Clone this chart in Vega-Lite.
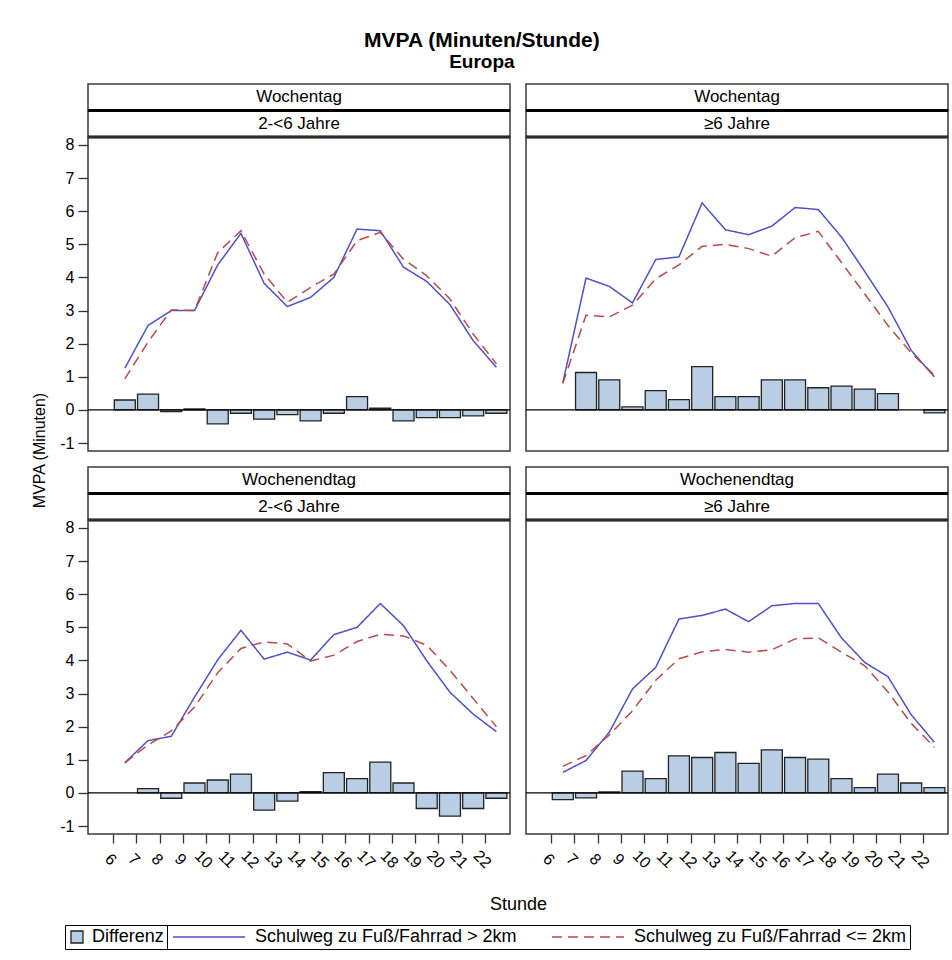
{
  "$schema": "https://vega.github.io/schema/vega-lite/v6.json",
  "padding": {"left": 30, "top": 30, "right": 5, "bottom": 5},
  "background": "white",
  "title": {"text": "MVPA (Minuten/Stunde)", "subtitle": "Europa", "anchor": "middle", "font": "Liberation Sans", "subtitleFont": "Liberation Sans", "fontSize": 21, "fontWeight": "bold", "subtitleFontSize": 19, "subtitleFontWeight": "bold", "color": "black", "subtitleColor": "black", "offset": 11, "subtitlePadding": 2, "dx": -8},
  "datasets": {
    "serien": [
      {"code": "gt2km", "name": "Schulweg zu Fuß/Fahrrad > 2km"},
      {"code": "le2km", "name": "Schulweg zu Fuß/Fahrrad <= 2km"}
    ],
    "nulllinie": [{"wert": 0}],
    "kopf": [
      {"panel": "A", "ebene": "1", "label": "Wochentag"},
      {"panel": "A", "ebene": "2", "label": "2-<6 Jahre"},
      {"panel": "B", "ebene": "1", "label": "Wochentag"},
      {"panel": "B", "ebene": "2", "label": "≥6 Jahre"},
      {"panel": "C", "ebene": "1", "label": "Wochenendtag"},
      {"panel": "C", "ebene": "2", "label": "2-<6 Jahre"},
      {"panel": "D", "ebene": "1", "label": "Wochenendtag"},
      {"panel": "D", "ebene": "2", "label": "≥6 Jahre"}
    ],
    "werte": [
      {"panel": "A", "stunde": 6.5, "gt2km": 1.26, "le2km": 0.94, "diff": 0.30},
      {"panel": "A", "stunde": 7.5, "gt2km": 2.55, "le2km": 2.05, "diff": 0.48},
      {"panel": "A", "stunde": 8.5, "gt2km": 3.0, "le2km": 3.02, "diff": -0.05},
      {"panel": "A", "stunde": 9.5, "gt2km": 3.0, "le2km": 3.0, "diff": 0.03},
      {"panel": "A", "stunde": 10.5, "gt2km": 4.38, "le2km": 4.75, "diff": -0.42},
      {"panel": "A", "stunde": 11.5, "gt2km": 5.33, "le2km": 5.41, "diff": -0.10},
      {"panel": "A", "stunde": 12.5, "gt2km": 3.82, "le2km": 4.1, "diff": -0.28},
      {"panel": "A", "stunde": 13.5, "gt2km": 3.12, "le2km": 3.25, "diff": -0.14},
      {"panel": "A", "stunde": 14.5, "gt2km": 3.40, "le2km": 3.70, "diff": -0.33},
      {"panel": "A", "stunde": 15.5, "gt2km": 4.0, "le2km": 4.10, "diff": -0.10},
      {"panel": "A", "stunde": 16.5, "gt2km": 5.46, "le2km": 5.11, "diff": 0.40},
      {"panel": "A", "stunde": 17.5, "gt2km": 5.41, "le2km": 5.36, "diff": 0.05},
      {"panel": "A", "stunde": 18.5, "gt2km": 4.31, "le2km": 4.55, "diff": -0.33},
      {"panel": "A", "stunde": 19.5, "gt2km": 3.88, "le2km": 4.05, "diff": -0.23},
      {"panel": "A", "stunde": 20.5, "gt2km": 3.18, "le2km": 3.35, "diff": -0.23},
      {"panel": "A", "stunde": 21.5, "gt2km": 2.09, "le2km": 2.29, "diff": -0.18},
      {"panel": "A", "stunde": 22.5, "gt2km": 1.29, "le2km": 1.39, "diff": -0.10},
      {"panel": "B", "stunde": 6.5, "gt2km": 0.82, "le2km": 0.80, "diff": null},
      {"panel": "B", "stunde": 7.5, "gt2km": 3.98, "le2km": 2.86, "diff": 1.13},
      {"panel": "B", "stunde": 8.5, "gt2km": 3.73, "le2km": 2.81, "diff": 0.91},
      {"panel": "B", "stunde": 9.5, "gt2km": 3.23, "le2km": 3.16, "diff": 0.09},
      {"panel": "B", "stunde": 10.5, "gt2km": 4.54, "le2km": 3.96, "diff": 0.58},
      {"panel": "B", "stunde": 11.5, "gt2km": 4.62, "le2km": 4.38, "diff": 0.31},
      {"panel": "B", "stunde": 12.5, "gt2km": 6.25, "le2km": 4.94, "diff": 1.31},
      {"panel": "B", "stunde": 13.5, "gt2km": 5.44, "le2km": 5.0, "diff": 0.40},
      {"panel": "B", "stunde": 14.5, "gt2km": 5.29, "le2km": 4.87, "diff": 0.40},
      {"panel": "B", "stunde": 15.5, "gt2km": 5.55, "le2km": 4.64, "diff": 0.91},
      {"panel": "B", "stunde": 16.5, "gt2km": 6.11, "le2km": 5.2, "diff": 0.91},
      {"panel": "B", "stunde": 17.5, "gt2km": 6.05, "le2km": 5.39, "diff": 0.67},
      {"panel": "B", "stunde": 18.5, "gt2km": 5.22, "le2km": 4.45, "diff": 0.72},
      {"panel": "B", "stunde": 19.5, "gt2km": 4.18, "le2km": 3.5, "diff": 0.63},
      {"panel": "B", "stunde": 20.5, "gt2km": 3.11, "le2km": 2.55, "diff": 0.49},
      {"panel": "B", "stunde": 21.5, "gt2km": 1.80, "le2km": 1.72, "diff": null},
      {"panel": "B", "stunde": 22.5, "gt2km": 1.0, "le2km": 1.05, "diff": -0.09},
      {"panel": "C", "stunde": 6.5, "gt2km": 0.91, "le2km": 0.91, "diff": null},
      {"panel": "C", "stunde": 7.5, "gt2km": 1.58, "le2km": 1.45, "diff": 0.13},
      {"panel": "C", "stunde": 8.5, "gt2km": 1.71, "le2km": 1.87, "diff": -0.16},
      {"panel": "C", "stunde": 9.5, "gt2km": 2.89, "le2km": 2.59, "diff": 0.30},
      {"panel": "C", "stunde": 10.5, "gt2km": 4.02, "le2km": 3.63, "diff": 0.39},
      {"panel": "C", "stunde": 11.5, "gt2km": 4.91, "le2km": 4.36, "diff": 0.57},
      {"panel": "C", "stunde": 12.5, "gt2km": 4.04, "le2km": 4.56, "diff": -0.52},
      {"panel": "C", "stunde": 13.5, "gt2km": 4.25, "le2km": 4.5, "diff": -0.25},
      {"panel": "C", "stunde": 14.5, "gt2km": 4.01, "le2km": 3.98, "diff": 0.04},
      {"panel": "C", "stunde": 15.5, "gt2km": 4.78, "le2km": 4.16, "diff": 0.61},
      {"panel": "C", "stunde": 16.5, "gt2km": 5.0, "le2km": 4.57, "diff": 0.43},
      {"panel": "C", "stunde": 17.5, "gt2km": 5.72, "le2km": 4.79, "diff": 0.93},
      {"panel": "C", "stunde": 18.5, "gt2km": 5.05, "le2km": 4.74, "diff": 0.30},
      {"panel": "C", "stunde": 19.5, "gt2km": 3.99, "le2km": 4.46, "diff": -0.47},
      {"panel": "C", "stunde": 20.5, "gt2km": 3.04, "le2km": 3.7, "diff": -0.70},
      {"panel": "C", "stunde": 21.5, "gt2km": 2.38, "le2km": 2.85, "diff": -0.47},
      {"panel": "C", "stunde": 22.5, "gt2km": 1.85, "le2km": 2.0, "diff": -0.16},
      {"panel": "D", "stunde": 6.5, "gt2km": 0.62, "le2km": 0.80, "diff": -0.20},
      {"panel": "D", "stunde": 7.5, "gt2km": 0.98, "le2km": 1.13, "diff": -0.15},
      {"panel": "D", "stunde": 8.5, "gt2km": 1.83, "le2km": 1.75, "diff": 0.03},
      {"panel": "D", "stunde": 9.5, "gt2km": 3.14, "le2km": 2.48, "diff": 0.66},
      {"panel": "D", "stunde": 10.5, "gt2km": 3.79, "le2km": 3.40, "diff": 0.43},
      {"panel": "D", "stunde": 11.5, "gt2km": 5.25, "le2km": 4.05, "diff": 1.12},
      {"panel": "D", "stunde": 12.5, "gt2km": 5.36, "le2km": 4.26, "diff": 1.07},
      {"panel": "D", "stunde": 13.5, "gt2km": 5.55, "le2km": 4.33, "diff": 1.22},
      {"panel": "D", "stunde": 14.5, "gt2km": 5.17, "le2km": 4.25, "diff": 0.89},
      {"panel": "D", "stunde": 15.5, "gt2km": 5.65, "le2km": 4.32, "diff": 1.30},
      {"panel": "D", "stunde": 16.5, "gt2km": 5.72, "le2km": 4.65, "diff": 1.07},
      {"panel": "D", "stunde": 17.5, "gt2km": 5.72, "le2km": 4.68, "diff": 1.02},
      {"panel": "D", "stunde": 18.5, "gt2km": 4.68, "le2km": 4.25, "diff": 0.43},
      {"panel": "D", "stunde": 19.5, "gt2km": 3.94, "le2km": 3.84, "diff": 0.16},
      {"panel": "D", "stunde": 20.5, "gt2km": 3.51, "le2km": 3.05, "diff": 0.57},
      {"panel": "D", "stunde": 21.5, "gt2km": 2.36, "le2km": 2.1, "diff": 0.30},
      {"panel": "D", "stunde": 22.5, "gt2km": 1.53, "le2km": 1.38, "diff": 0.16}
    ]
  },
  "columns": 2,
  "spacing": {"row": 0, "column": 16},
  "bounds": "flush",
  "concat": [
    {"width": 422, "height": 53, "view": {"stroke": null}, "data": {"name": "kopf"}, "transform": [{"filter": {"field": "panel", "equal": "A"}}],
     "layer": [
       {"mark": {"type": "rect", "fill": "white", "stroke": "#3a3a3a", "strokeWidth": 1.5}, "encoding": {"y": {"field": "ebene", "type": "nominal", "axis": null, "scale": {"type": "band", "paddingInner": 0, "paddingOuter": 0}}}},
       {"mark": {"type": "rule", "color": "black", "strokeWidth": 3}, "encoding": {"y": {"field": "ebene", "type": "nominal", "bandPosition": 1}}},
       {"mark": {"type": "text", "fontSize": 17, "baseline": "middle", "color": "black"}, "encoding": {"y": {"field": "ebene", "type": "nominal", "bandPosition": 0.5}, "text": {"field": "label", "type": "nominal"}}}
     ]},
    {"width": 422, "height": 53, "view": {"stroke": null}, "data": {"name": "kopf"}, "transform": [{"filter": {"field": "panel", "equal": "B"}}],
     "layer": [
       {"mark": {"type": "rect", "fill": "white", "stroke": "#3a3a3a", "strokeWidth": 1.5}, "encoding": {"y": {"field": "ebene", "type": "nominal", "axis": null, "scale": {"type": "band", "paddingInner": 0, "paddingOuter": 0}}}},
       {"mark": {"type": "rule", "color": "black", "strokeWidth": 3}, "encoding": {"y": {"field": "ebene", "type": "nominal", "bandPosition": 1}}},
       {"mark": {"type": "text", "fontSize": 17, "baseline": "middle", "color": "black"}, "encoding": {"y": {"field": "ebene", "type": "nominal", "bandPosition": 0.5}, "text": {"field": "label", "type": "nominal"}}}
     ]},
    {"width": 422, "height": 314, "layer": [
      {"data": {"name": "werte"}, "transform": [{"filter": {"field": "panel", "equal": "A"}}, {"filter": "isValid(datum.diff)"}],
       "mark": {"type": "bar", "size": 21, "stroke": "#222222", "strokeWidth": 1.3},
       "encoding": {
         "x": {"field": "stunde", "type": "quantitative", "scale": {"domain": [5.13, 22.87], "nice": false, "zero": false}, "axis": null},
         "y": {"field": "diff", "type": "quantitative", "scale": {"domain": [-1.24, 8.24], "nice": false, "zero": false}, "axis": {"values": [-1, 0, 1, 2, 3, 4, 5, 6, 7, 8], "tickCount": 30, "format": "d", "labelExpr": "replace(datum.label, '\u2212', '-')", "title": "MVPA (Minuten)", "titleX": -49, "titleY": 313, "titleAngle": 270, "titleAlign": "center", "titleBaseline": "middle", "tickSize": 10, "labelPadding": 4}},
         "y2": {"datum": 0},
         "fill": {"datum": "Differenz", "type": "nominal", "title": null,
           "scale": {"domain": ["Differenz"], "range": ["#b9cde5"]},
           "legend": {"title": null, "orient": "none", "legendX": -23, "legendY": 841, "direction": "horizontal", "symbolType": "square", "symbolSize": 144, "symbolStrokeColor": "#222222", "symbolStrokeWidth": 1.3, "labelFontSize": 18, "labelOffset": 6, "padding": 3, "strokeColor": "black", "labelLimit": 400, "labelColor": "black"}}
       }},
      {"data": {"name": "werte"}, "transform": [{"filter": {"field": "panel", "equal": "A"}}, {"fold": ["gt2km", "le2km"], "as": ["serie", "wert"]}, {"lookup": "serie", "from": {"data": {"name": "serien"}, "key": "code", "fields": ["name"]}}],
       "mark": {"type": "line", "strokeWidth": 1.5},
       "encoding": {
         "x": {"field": "stunde", "type": "quantitative"},
         "y": {"field": "wert", "type": "quantitative"},
         "stroke": {"field": "name", "type": "nominal", "title": null,
           "scale": {"domain": ["Schulweg zu Fuß/Fahrrad > 2km", "Schulweg zu Fuß/Fahrrad <= 2km"], "range": ["#4f4fc8", "#b94a4a"]},
           "legend": {"title": null, "orient": "none", "legendX": 79, "legendY": 841, "direction": "horizontal", "symbolType": "M-6,0H6", "symbolSize": 144, "symbolOffset": 30, "symbolStrokeWidth": 1.5, "labelFontSize": 18, "labelOffset": 37, "columnPadding": 32, "padding": 3, "strokeColor": "black", "labelLimit": 400, "labelColor": "black"}},
         "strokeDash": {"field": "name", "type": "nominal", "title": null,
           "scale": {"domain": ["Schulweg zu Fuß/Fahrrad > 2km", "Schulweg zu Fuß/Fahrrad <= 2km"], "range": [[1, 0], [10, 6]]},
           "legend": {"title": null, "orient": "none", "legendX": 79, "legendY": 841, "direction": "horizontal", "symbolType": "M-6,0H6", "symbolSize": 144, "symbolOffset": 30, "symbolStrokeWidth": 1.5, "labelFontSize": 18, "labelOffset": 37, "columnPadding": 32, "padding": 3, "strokeColor": "black", "labelLimit": 400, "labelColor": "black"}}
       }},
      {"data": {"name": "nulllinie"}, "mark": {"type": "rule", "color": "black", "strokeWidth": 1.3}, "encoding": {"y": {"field": "wert", "type": "quantitative"}}}
    ]},
    {"width": 422, "height": 314, "layer": [
      {"data": {"name": "werte"}, "transform": [{"filter": {"field": "panel", "equal": "B"}}, {"filter": "isValid(datum.diff)"}],
       "mark": {"type": "bar", "size": 21, "stroke": "#222222", "strokeWidth": 1.3},
       "encoding": {
         "x": {"field": "stunde", "type": "quantitative", "scale": {"domain": [5.13, 22.87], "nice": false, "zero": false}, "axis": null},
         "y": {"field": "diff", "type": "quantitative", "scale": {"domain": [-1.24, 8.24], "nice": false, "zero": false}, "axis": null},
         "y2": {"datum": 0},
         "fill": {"datum": "Differenz", "type": "nominal", "title": null}
       }},
      {"data": {"name": "werte"}, "transform": [{"filter": {"field": "panel", "equal": "B"}}, {"fold": ["gt2km", "le2km"], "as": ["serie", "wert"]}, {"lookup": "serie", "from": {"data": {"name": "serien"}, "key": "code", "fields": ["name"]}}],
       "mark": {"type": "line", "strokeWidth": 1.5},
       "encoding": {
         "x": {"field": "stunde", "type": "quantitative"},
         "y": {"field": "wert", "type": "quantitative"},
         "stroke": {"field": "name", "type": "nominal", "title": null},
         "strokeDash": {"field": "name", "type": "nominal", "title": null}
       }},
      {"data": {"name": "nulllinie"}, "mark": {"type": "rule", "color": "black", "strokeWidth": 1.3}, "encoding": {"y": {"field": "wert", "type": "quantitative"}}}
    ]},
    {"width": 422, "height": 69, "view": {"stroke": null}, "data": {"name": "kopf"}, "transform": [{"filter": {"field": "panel", "equal": "C"}}],
     "layer": [
       {"mark": {"type": "rect", "fill": "white", "stroke": "#3a3a3a", "strokeWidth": 1.5}, "encoding": {"y": {"field": "ebene", "type": "nominal", "axis": null, "scale": {"type": "band", "paddingInner": 0, "paddingOuter": 0.302, "align": 1}}}},
       {"mark": {"type": "rule", "color": "black", "strokeWidth": 3}, "encoding": {"y": {"field": "ebene", "type": "nominal", "bandPosition": 1}}},
       {"mark": {"type": "text", "fontSize": 17, "baseline": "middle", "color": "black"}, "encoding": {"y": {"field": "ebene", "type": "nominal", "bandPosition": 0.5}, "text": {"field": "label", "type": "nominal"}}}
     ]},
    {"width": 422, "height": 69, "view": {"stroke": null}, "data": {"name": "kopf"}, "transform": [{"filter": {"field": "panel", "equal": "D"}}],
     "layer": [
       {"mark": {"type": "rect", "fill": "white", "stroke": "#3a3a3a", "strokeWidth": 1.5}, "encoding": {"y": {"field": "ebene", "type": "nominal", "axis": null, "scale": {"type": "band", "paddingInner": 0, "paddingOuter": 0.302, "align": 1}}}},
       {"mark": {"type": "rule", "color": "black", "strokeWidth": 3}, "encoding": {"y": {"field": "ebene", "type": "nominal", "bandPosition": 1}}},
       {"mark": {"type": "text", "fontSize": 17, "baseline": "middle", "color": "black"}, "encoding": {"y": {"field": "ebene", "type": "nominal", "bandPosition": 0.5}, "text": {"field": "label", "type": "nominal"}}}
     ]},
    {"width": 422, "height": 314, "layer": [
      {"data": {"name": "werte"}, "transform": [{"filter": {"field": "panel", "equal": "C"}}, {"filter": "isValid(datum.diff)"}],
       "mark": {"type": "bar", "size": 21, "stroke": "#222222", "strokeWidth": 1.3},
       "encoding": {
         "x": {"field": "stunde", "type": "quantitative", "scale": {"domain": [5.13, 22.87], "nice": false, "zero": false}, "axis": {"values": [6, 7, 8, 9, 10, 11, 12, 13, 14, 15, 16, 17, 18, 19, 20, 21, 22], "tickCount": 30, "format": "d", "title": "Stunde", "titleFontSize": 18, "titleX": 430, "titleY": 70, "titleAlign": "center", "titleBaseline": "middle", "labelAngle": 45, "labelAlign": "center", "labelBaseline": "middle", "labelPadding": 16, "tickSize": 9, "labelOffset": -3, "labelOverlap": false}},
         "y": {"field": "diff", "type": "quantitative", "scale": {"domain": [-1.24, 8.24], "nice": false, "zero": false}, "axis": {"values": [-1, 0, 1, 2, 3, 4, 5, 6, 7, 8], "tickCount": 30, "format": "d", "labelExpr": "replace(datum.label, '\u2212', '-')", "title": null, "tickSize": 10, "labelPadding": 4}},
         "y2": {"datum": 0},
         "fill": {"datum": "Differenz", "type": "nominal", "title": null}
       }},
      {"data": {"name": "werte"}, "transform": [{"filter": {"field": "panel", "equal": "C"}}, {"fold": ["gt2km", "le2km"], "as": ["serie", "wert"]}, {"lookup": "serie", "from": {"data": {"name": "serien"}, "key": "code", "fields": ["name"]}}],
       "mark": {"type": "line", "strokeWidth": 1.5},
       "encoding": {
         "x": {"field": "stunde", "type": "quantitative"},
         "y": {"field": "wert", "type": "quantitative"},
         "stroke": {"field": "name", "type": "nominal", "title": null},
         "strokeDash": {"field": "name", "type": "nominal", "title": null}
       }},
      {"data": {"name": "nulllinie"}, "mark": {"type": "rule", "color": "black", "strokeWidth": 1.3}, "encoding": {"y": {"field": "wert", "type": "quantitative"}}}
    ]},
    {"width": 422, "height": 314, "layer": [
      {"data": {"name": "werte"}, "transform": [{"filter": {"field": "panel", "equal": "D"}}, {"filter": "isValid(datum.diff)"}],
       "mark": {"type": "bar", "size": 21, "stroke": "#222222", "strokeWidth": 1.3},
       "encoding": {
         "x": {"field": "stunde", "type": "quantitative", "scale": {"domain": [5.13, 22.87], "nice": false, "zero": false}, "axis": {"values": [6, 7, 8, 9, 10, 11, 12, 13, 14, 15, 16, 17, 18, 19, 20, 21, 22], "tickCount": 30, "format": "d", "title": null, "labelAngle": 45, "labelAlign": "center", "labelBaseline": "middle", "labelPadding": 16, "tickSize": 9, "labelOffset": -3, "labelOverlap": false}},
         "y": {"field": "diff", "type": "quantitative", "scale": {"domain": [-1.24, 8.24], "nice": false, "zero": false}, "axis": null},
         "y2": {"datum": 0},
         "fill": {"datum": "Differenz", "type": "nominal", "title": null}
       }},
      {"data": {"name": "werte"}, "transform": [{"filter": {"field": "panel", "equal": "D"}}, {"fold": ["gt2km", "le2km"], "as": ["serie", "wert"]}, {"lookup": "serie", "from": {"data": {"name": "serien"}, "key": "code", "fields": ["name"]}}],
       "mark": {"type": "line", "strokeWidth": 1.5},
       "encoding": {
         "x": {"field": "stunde", "type": "quantitative"},
         "y": {"field": "wert", "type": "quantitative"},
         "stroke": {"field": "name", "type": "nominal", "title": null},
         "strokeDash": {"field": "name", "type": "nominal", "title": null}
       }},
      {"data": {"name": "nulllinie"}, "mark": {"type": "rule", "color": "black", "strokeWidth": 1.3}, "encoding": {"y": {"field": "wert", "type": "quantitative"}}}
    ]}
  ],
  "config": {
    "font": "Liberation Sans",
    "view": {"stroke": "#3a3a3a", "strokeWidth": 1.5},
    "axis": {"grid": false, "domain": false, "tickColor": "#333333", "tickWidth": 1.3, "labelColor": "black", "titleColor": "black", "labelFontSize": 16, "titleFontSize": 16, "titleFontWeight": "normal", "labelFont": "Liberation Sans", "titleFont": "Liberation Sans", "labelOverlap": false},
    "legend": {"labelFont": "Liberation Sans"}
  }
}
